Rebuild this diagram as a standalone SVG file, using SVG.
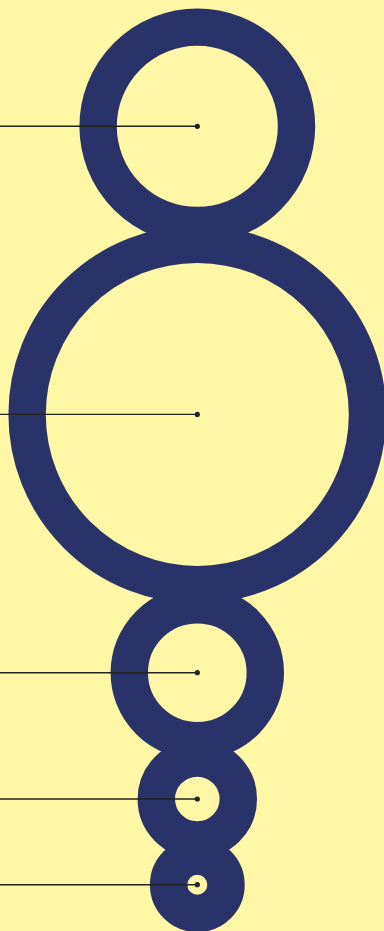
<svg xmlns="http://www.w3.org/2000/svg" width="384" height="931" viewBox="0 0 384 931">
<style>
.ring{fill:none;stroke:#2A3369;stroke-width:37.4}
.lead{stroke:#222222;stroke-width:1.4;fill:none}
.dot{fill:#222222}
</style>
<rect width="384" height="931" fill="#FFF7A5"/>
<g id="ring1"><circle class="ring" cx="197.3" cy="126.3" r="99.2"/></g>
<g id="ring2"><circle class="ring" cx="197.3" cy="414.4" r="170.2"/></g>
<g id="ring3"><circle class="ring" cx="197.3" cy="672.7" r="68"/></g>
<g id="ring4"><circle class="ring" cx="197.3" cy="799" r="41"/></g>
<g id="ring5"><circle class="ring" cx="197.3" cy="884.7" r="28.7"/></g>
<g id="connectors">
<line class="lead" x1="0" y1="126.3" x2="197.3" y2="126.3"/>
<circle class="dot" cx="197.3" cy="126.3" r="2.6"/>
<line class="lead" x1="0" y1="414.4" x2="197.3" y2="414.4"/>
<circle class="dot" cx="197.3" cy="414.4" r="2.6"/>
<line class="lead" x1="0" y1="672.7" x2="197.3" y2="672.7"/>
<circle class="dot" cx="197.3" cy="672.7" r="2.6"/>
<line class="lead" x1="0" y1="799" x2="197.3" y2="799"/>
<circle class="dot" cx="197.3" cy="799" r="2.6"/>
<line class="lead" x1="0" y1="884.7" x2="197.3" y2="884.7"/>
<circle class="dot" cx="197.3" cy="884.7" r="2.6"/>
</g>
</svg>
